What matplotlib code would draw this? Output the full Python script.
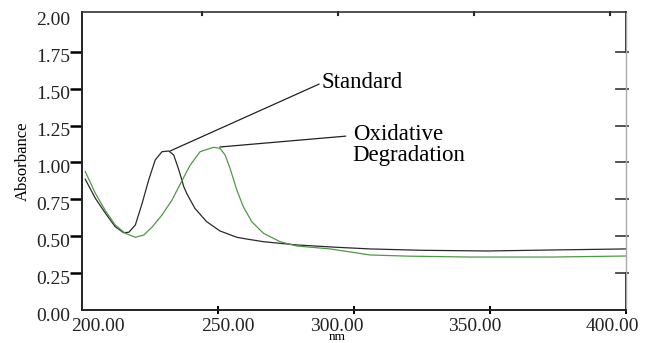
import matplotlib
matplotlib.use('Agg')
import matplotlib.pyplot as plt
from matplotlib.transforms import ScaledTranslation

# wavelength (nm) / absorbance
std_nm = [201.2, 204.9, 208.6, 212.2, 215.3, 217.2, 219.6, 222.1, 224.5, 226.9,
          229.4, 231.9, 233.7, 235.6, 236.7, 237.4, 238.5, 241.5, 245.8, 250.7,
          256.9, 260.6, 266.7, 272.8, 278.9, 293.8, 305.9, 324.3, 349, 373, 400]
std_abs = [0.886, 0.757, 0.656, 0.565, 0.524, 0.527, 0.576, 0.723, 0.881, 1.017,
           1.073, 1.078, 1.051, 0.949, 0.881, 0.836, 0.79, 0.689, 0.599, 0.536,
           0.493, 0.481, 0.463, 0.452, 0.441, 0.425, 0.414, 0.405, 0.40, 0.407, 0.414]

oxi_nm = [201.2, 204.9, 208.6, 212.2, 215.9, 219.6, 222.7, 225.7, 229.4, 233.1,
          236.7, 239.7, 243.4, 248.3, 250.7, 252.6, 254.4, 256.9, 259.3, 262.4,
          266.7, 272.8, 278.9, 291.2, 305.9, 320, 342.6, 373, 400]
oxi_abs = [0.938, 0.791, 0.673, 0.576, 0.52, 0.493, 0.508, 0.561, 0.644, 0.746,
           0.875, 0.98, 1.073, 1.103, 1.096, 1.051, 0.961, 0.814, 0.70, 0.599,
           0.52, 0.463, 0.434, 0.414, 0.373, 0.365, 0.359, 0.359, 0.366]

xticks = [250, 300, 350, 400]
yticks = [0.25, 0.5, 0.75, 1.0, 1.25, 1.5, 1.75]
ylabels = ["0.00", "0.25", "0.50", "0.75", "1.00", "1.25", "1.50", "1.75", "2.00"]
xlabels = ["200.00", "250.00", "300.00", "350.00", "400.00"]
xlabel_shift = [16, 10, -17, -15, -14]   # px, labels sit off their ticks in the scan

plt.rcParams['font.family'] = ['Liberation Serif', 'DejaVu Serif']

fig = plt.figure(figsize=(6.5, 3.43), dpi=100)
ax = fig.add_axes([0.1262, 0.0962, 0.8369, 0.8688])

ax.plot(std_nm, std_abs, color='#2a2a2a', lw=0.9, solid_joinstyle='round')
ax.plot(oxi_nm, oxi_abs, color='#4e9a44', lw=0.9, solid_joinstyle='round')

ax.set_xlim(200, 400)
ax.set_ylim(0, 2.02)

# left ticks, outward and thick
ax.set_yticks(yticks)
ax.set_yticklabels([])
ax.tick_params(axis='y', direction='out', length=9, width=1.8, left=True,
               right=False, labelleft=False)
ax.set_xticks(xticks)
ax.set_xticklabels([])
ax.tick_params(axis='x', direction='inout', length=6, width=1.4, top=False,
               labelbottom=False)

lab_dy = ScaledTranslation(0, -0.06, fig.dpi_scale_trans)
for i, t in enumerate(ylabels):
    ax.text(-0.022, i * 0.25, t, transform=ax.get_yaxis_transform() + lab_dy,
            ha='right', va='center', fontsize=14, color='#222')
for i, t in enumerate(xlabels):
    off = ScaledTranslation(xlabel_shift[i] / 100, -0.165, fig.dpi_scale_trans)
    ax.text(200 + 50 * i, 0, t, transform=ax.get_xaxis_transform() + off,
            ha='center', va='center', fontsize=14, color='#222')

# small ticks on the right and top edges
for v in yticks:
    ax.plot([396.5, 400.8], [v, v], color='#444', lw=1.3, clip_on=False)
for v in xticks:
    ax.plot([v - 6, v - 6], [2.0, 2.02], color='#222', lw=1.5, clip_on=False)

for s in ['left', 'bottom']:
    ax.spines[s].set_linewidth(1.4)
    ax.spines[s].set_color('#222')
ax.spines['top'].set_linewidth(1.2)
ax.spines['top'].set_color('#333')
ax.spines['right'].set_linewidth(1.0)
ax.spines['right'].set_color('#aaaaaa')
ax.axvline(400, ymin=0, ymax=0.25 / 2.02, color='#222', lw=1.4, clip_on=False)
ax.axvline(400, ymin=1.75 / 2.02, ymax=1, color='#222', lw=1.4, clip_on=False)

ax.text(-0.108, 0.5, 'Absorbance', rotation=90, transform=ax.transAxes,
        ha='center', va='center', fontsize=12)
fig.text(337 / 650, 0.0, 'nm', ha='center', va='bottom', fontsize=9.5)

ax.annotate('Standard', xy=(232.4, 1.078), xytext=(288.2, 1.54),
            fontsize=16.5, va='center', ha='left',
            arrowprops=dict(arrowstyle='-', color='#222', lw=0.9,
                            shrinkA=0, shrinkB=0, relpos=(0, 0.5)))
ax.annotate('Oxidative\nDegradation', xy=(250.7, 1.105), xytext=(299.5, 1.12),
            fontsize=16.5, va='center', ha='left', linespacing=1.0,
            arrowprops=dict(arrowstyle='-', color='#222', lw=0.9,
                            shrinkA=3, shrinkB=0, relpos=(0, 0.72)))

plt.savefig('out.png', dpi=100)
